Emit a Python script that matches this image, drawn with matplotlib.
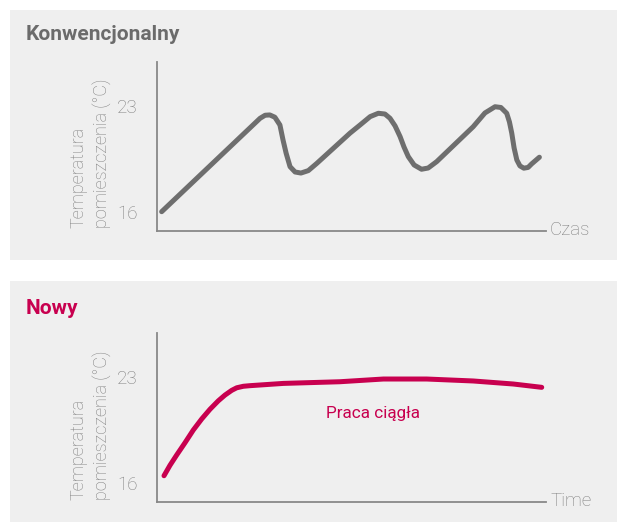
import matplotlib
matplotlib.use("Agg")
import matplotlib.pyplot as plt
from matplotlib.patches import Rectangle

# time axis runs 0..100, temperatures in deg C
conv_time = [1.2, 26.5, 27.8, 29.0, 30.3, 31.6, 32.4, 33.2, 34.2, 35.5, 37.0, 38.9,
             41.1, 49.6, 52.2, 54.8, 56.9, 58.6, 59.9, 61.2, 62.5, 63.5, 64.6, 66.1,
             68.0, 69.7, 71.9, 81.3, 84.3, 86.9, 88.4, 89.9, 90.6, 91.2, 91.8, 92.5,
             93.3, 94.3, 95.4, 96.3, 98.3]
conv_temp = [16.05, 22.19, 22.39, 22.41, 22.26, 21.75, 20.76, 19.89, 19.01, 18.66, 18.59, 18.75,
             19.23, 21.21, 21.75, 22.30, 22.52, 22.47, 22.19, 21.69, 20.98, 20.30, 19.67, 19.12,
             18.84, 18.92, 19.34, 21.64, 22.54, 22.95, 22.90, 22.52, 21.95, 21.21, 20.24, 19.45,
             19.06, 18.91, 18.96, 19.19, 19.63]

new_time = [1.8, 3.34, 5.06, 7.20, 9.33, 11.49, 13.62, 15.76, 17.48, 19.20, 20.49, 22.19,
            23.9, 32.5, 47.0, 58.2, 69.3, 81.3, 91.6, 98.9]
new_temp = [16.46, 17.15, 17.83, 18.64, 19.48, 20.21, 20.85, 21.41, 21.79, 22.10, 22.27, 22.37,
            22.41, 22.56, 22.67, 22.85, 22.85, 22.72, 22.52, 22.30]

yticks = [16, 23]
ylabel_lines = ["Temperatura", "pomieszczenia (°C)"]

GRAY_LINE = "#6e6e6e"
AXIS_COL = "#888888"
TEXT_COL = "#7f7f7f"
RED = "#c8004f"
BG = "#efefef"

W, H = 617, 522
fig = plt.figure(figsize=(W / 100, H / 100), dpi=100)
fig.patch.set_facecolor("white")


def fx(px):
    return px / W


def fy(py):
    return 1 - py / H


LIGHT = dict(family="Roboto", weight="light")

# panel backgrounds
fig.patches.append(Rectangle((fx(10), fy(260)), fx(607), 250 / H,
                             transform=fig.transFigure, facecolor=BG, edgecolor="none", zorder=-5))
fig.patches.append(Rectangle((fx(10), fy(522)), fx(607), 241 / H,
                             transform=fig.transFigure, facecolor=BG, edgecolor="none", zorder=-5))


def make_axes(top, bottom, ylim):
    ax = fig.add_axes([fx(157), fy(bottom), fx(546) - fx(157), (bottom - top) / H])
    ax.set_facecolor("none")
    ax.set_xlim(0, 100)
    ax.set_ylim(*ylim)
    for s in ("top", "right"):
        ax.spines[s].set_visible(False)
    for s in ("left", "bottom"):
        ax.spines[s].set_color(AXIS_COL)
        ax.spines[s].set_linewidth(1.3)
    ax.set_xticks([])
    ax.set_yticks(yticks)
    ax.tick_params(axis="y", length=0, pad=14, labelsize=13.5, labelcolor=TEXT_COL)
    for lab in ax.get_yticklabels():
        lab.set_fontfamily("Roboto")
        lab.set_fontweight("light")
    return ax


ax1 = make_axes(61.7, 230.7, (14.80, 25.91))
ax1.plot(conv_time, conv_temp, color=GRAY_LINE, lw=3.6, solid_capstyle="round",
         solid_joinstyle="round")

ax2 = make_axes(333.3, 501.7, (14.745, 25.87))
ax2.plot(new_time, new_temp, color=RED, lw=3.6, solid_capstyle="round",
         solid_joinstyle="round")
ax2.text(55.5, 20.6, "Praca ciągła", color=RED, fontsize=12.3, ha="center", va="center",
         family="Roboto")

# titles
fig.text(fx(26), fy(40), "Konwencjonalny", color="#6b6b6b", fontsize=15,
         family="Roboto", weight="bold", va="baseline")
fig.text(fx(26), fy(314), "Nowy", color=RED, fontsize=15,
         family="Roboto", weight="bold", va="baseline")

# axis names
for base in (0, 272):
    fig.text(fx(84), fy(228 + base), ylabel_lines[0], rotation=90, color=TEXT_COL,
             fontsize=13, ha="left", va="baseline", rotation_mode="anchor", **LIGHT)
    fig.text(fx(106.5), fy(228 + base), ylabel_lines[1], rotation=90, color=TEXT_COL,
             fontsize=13, ha="left", va="baseline", rotation_mode="anchor", **LIGHT)

fig.text(fx(550), fy(234.7), "Czas", color=TEXT_COL, fontsize=13.5, va="baseline", **LIGHT)
fig.text(fx(550), fy(506), "Time", color=TEXT_COL, fontsize=13.5, va="baseline", **LIGHT)

fig.savefig("out.png", dpi=100, facecolor="white")
